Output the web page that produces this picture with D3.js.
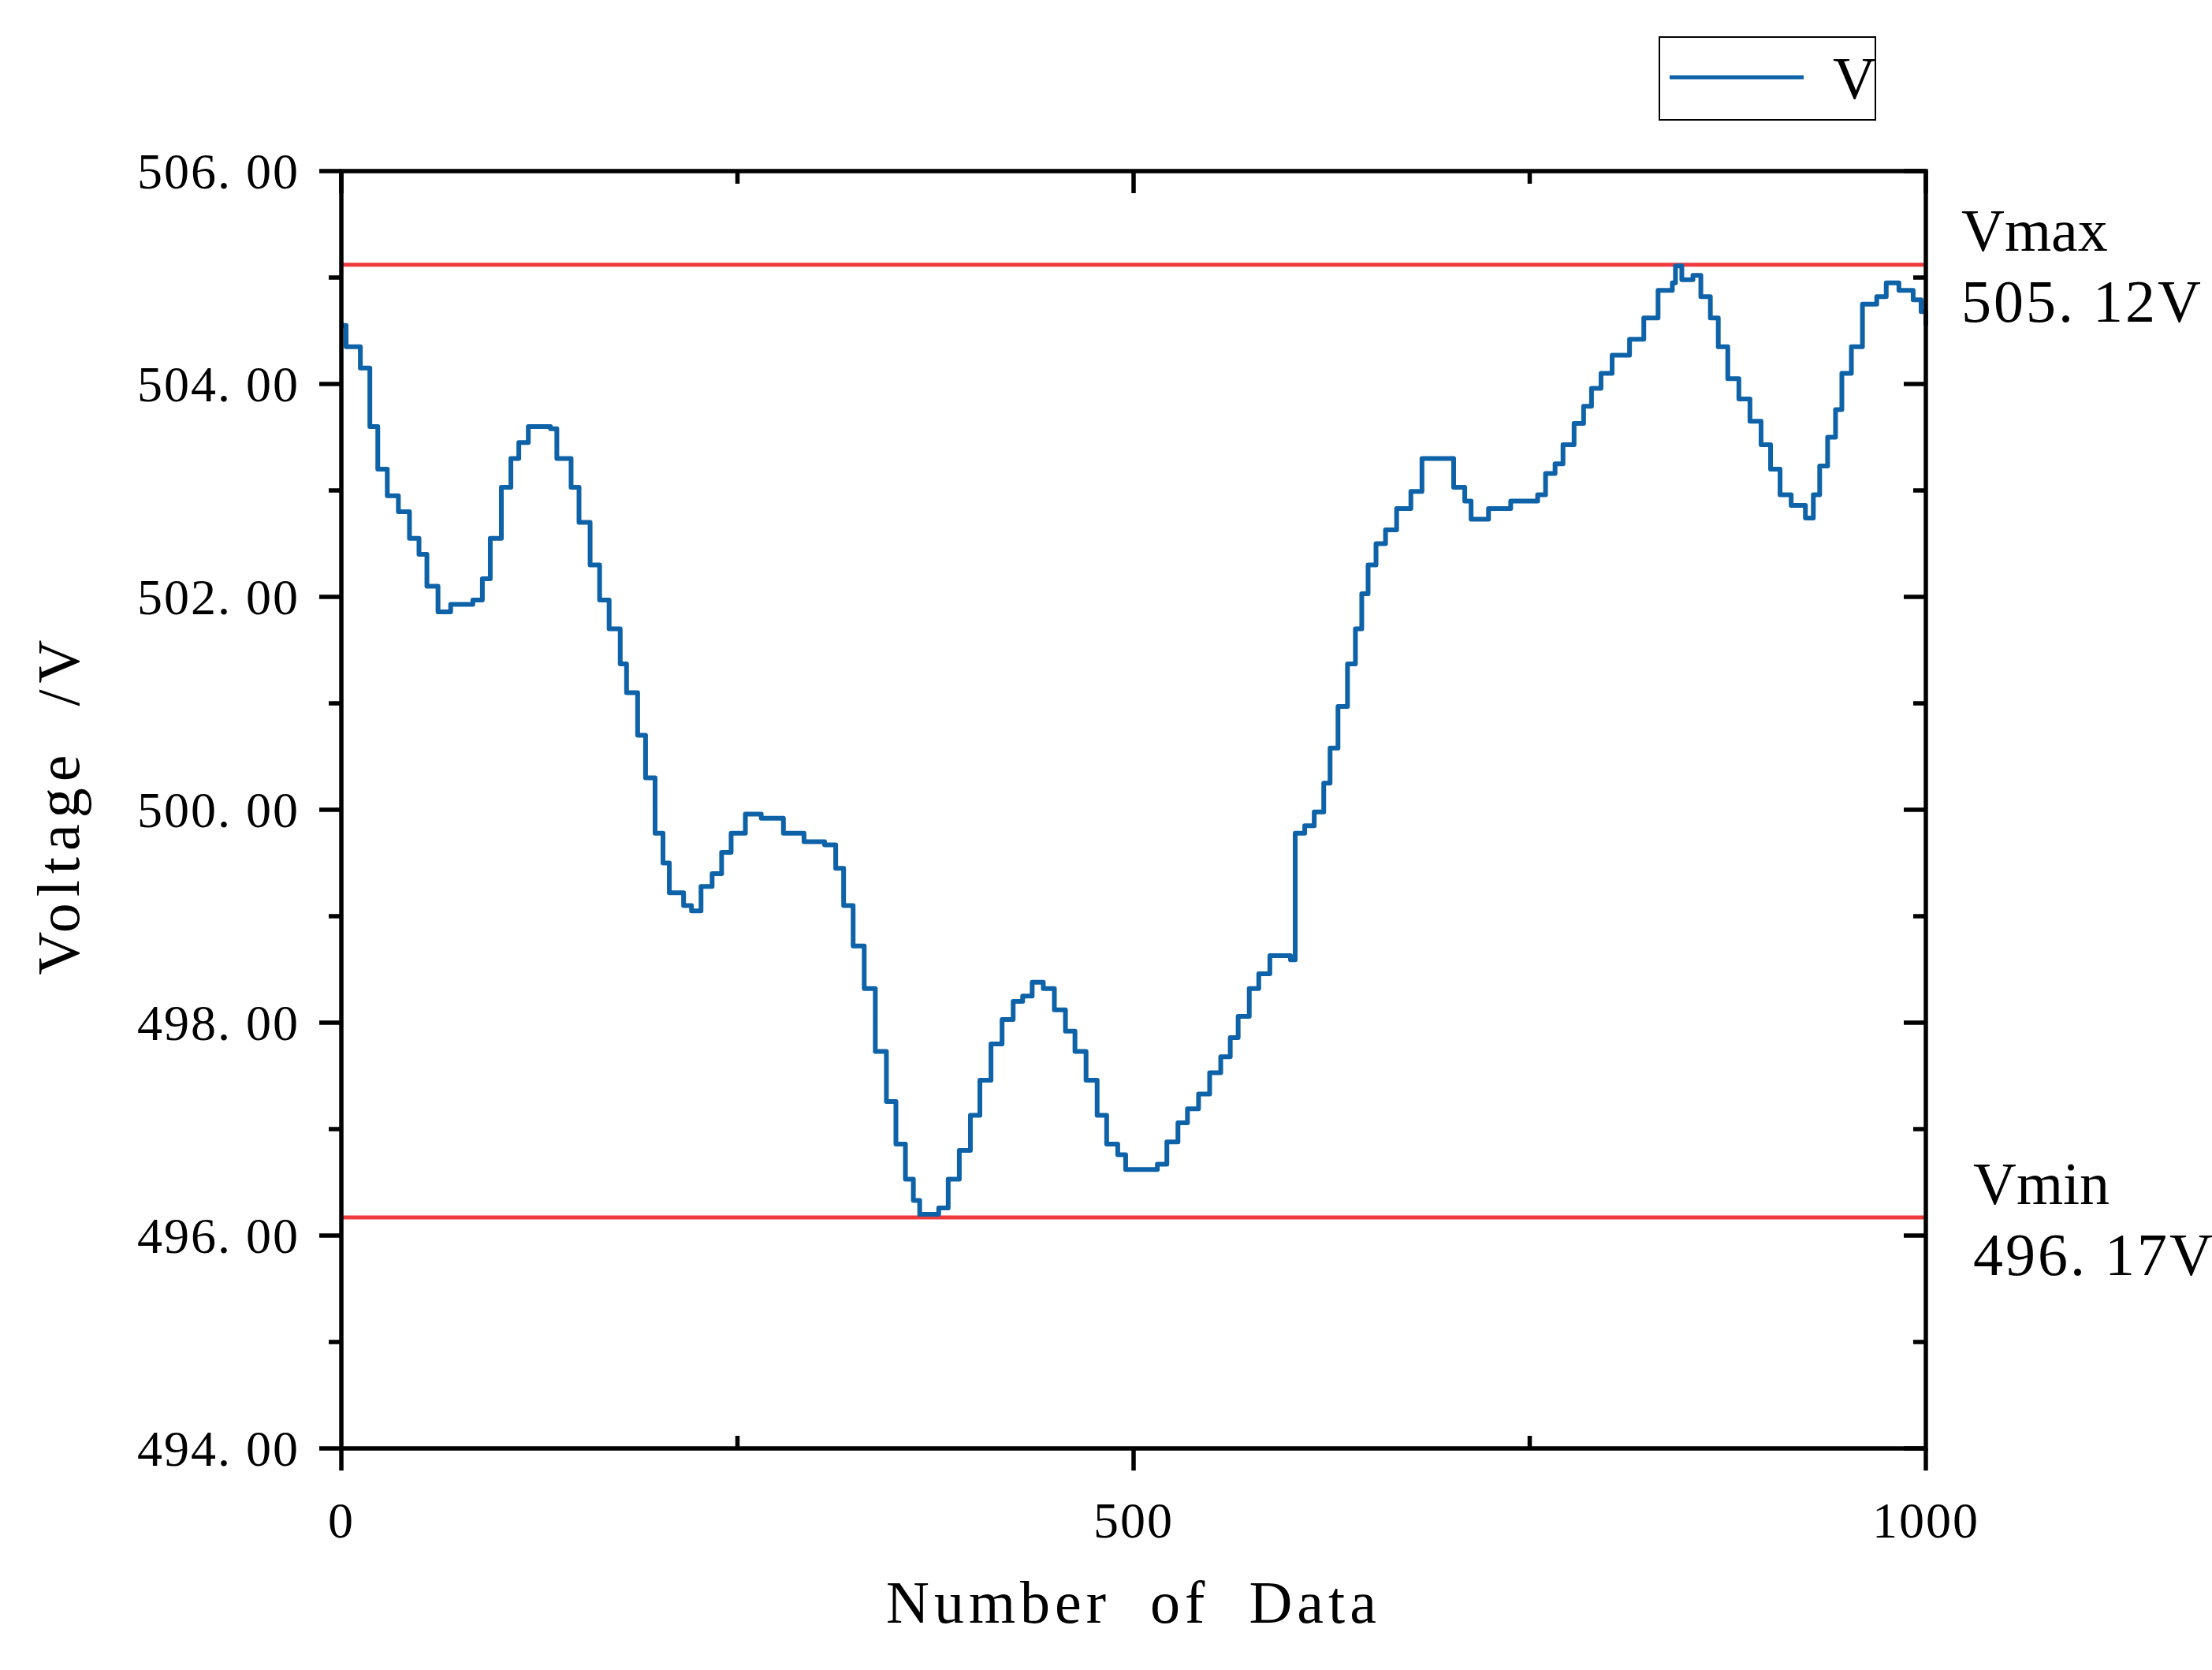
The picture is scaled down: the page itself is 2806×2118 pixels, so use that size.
<!DOCTYPE html>
<html><head><meta charset="utf-8">
<script src="https://cdn.jsdelivr.net/npm/d3@7"></script>
<style>body{margin:0;background:#fff}</style>
</head><body>
<svg id="c" width="2806" height="2118"></svg>
<script>
// step points: index, voltage
var idx = [0,3,12,18,23,29,36,43,49,54,61,69,83,89,94,101,107,112,118,132,136,145,150,157,163,169,176,180,187,192,198,203,207,216,221,227,234,240,246,255,265,279,292,305,312,317,323,330,337,344,350,356,361,365,377,383,390,397,403,410,417,424,430,436,443,450,457,463,470,477,483,490,495,515,521,528,534,541,548,555,561,566,573,579,586,599,602,608,614,620,624,629,635,640,644,648,653,659,666,675,682,697,702,709,713,724,738,755,760,766,771,778,784,789,795,802,813,822,831,840,842,846,853,858,864,869,875,882,889,896,902,908,915,924,929,933,938,943,947,953,960,969,975,983,992,997,1000];
var volts = [504.55,504.35,504.15,503.6,503.2,502.95,502.8,502.55,502.4,502.1,501.86,501.93,501.97,502.17,502.55,503.03,503.3,503.45,503.6,503.58,503.3,503.03,502.7,502.3,501.97,501.7,501.37,501.1,500.7,500.3,499.78,499.5,499.22,499.1,499.05,499.28,499.4,499.6,499.78,499.96,499.92,499.78,499.7,499.67,499.45,499.1,498.72,498.32,497.73,497.26,496.86,496.53,496.33,496.2,496.26,496.53,496.8,497.13,497.46,497.8,498.03,498.2,498.25,498.38,498.32,498.12,497.92,497.73,497.46,497.13,496.86,496.76,496.62,496.67,496.88,497.06,497.19,497.33,497.53,497.68,497.86,498.06,498.32,498.46,498.63,498.59,499.78,499.85,499.98,500.25,500.58,500.97,501.37,501.7,502.03,502.3,502.5,502.63,502.83,502.99,503.3,503.3,503.03,502.9,502.73,502.83,502.9,502.96,503.16,503.25,503.43,503.63,503.79,503.96,504.1,504.27,504.42,504.62,504.88,504.95,505.11,504.98,505.02,504.82,504.62,504.35,504.05,503.86,503.65,503.43,503.2,502.96,502.86,502.74,502.96,503.23,503.5,503.76,504.1,504.35,504.75,504.82,504.95,504.88,504.79,504.68,504.55];
var yTicks = [494,496,498,500,502,504,506];
var xTicks = [0,500,1000];
var limits = [{v:505.12, name:"Vmax", label:"505.12V"}, {v:496.17, name:"Vmin", label:"496.17V"}];

var svg = d3.select("#c");
var L = 433, R = 2443, T = 217, B = 1837;
var font = "'Liberation Serif','DejaVu Serif',serif";
var x = d3.scaleLinear().domain([0,1000]).range([L,R]);
var y = d3.scaleLinear().domain([494,506]).range([B,T]);
var blue = "#0e62a8", red = "#f0393c";

// limit lines
svg.selectAll(".lim").data(limits).enter().append("line")
  .attr("x1", L).attr("x2", R)
  .attr("y1", d => y(d.v)).attr("y2", d => y(d.v))
  .attr("stroke", red).attr("stroke-width", 5);

// data line
var pts = idx.map((d,i) => [d, volts[i]]);
svg.append("path").datum(pts)
  .attr("d", d3.line().x(d => x(d[0])).y(d => y(d[1])).curve(d3.curveStepAfter))
  .attr("fill", "none").attr("stroke", blue).attr("stroke-width", 6).attr("stroke-linejoin", "round");

// frame and axes
var ax = svg.append("g").attr("stroke", "#000").attr("stroke-width", 5.5);
ax.append("rect").attr("x", L).attr("y", T).attr("width", R-L).attr("height", B-T).attr("fill", "none");
d3.range(494, 506.01, 1).forEach(function(v){
  var major = v % 2 === 0, len = major ? 28 : 16;
  ax.append("line").attr("x1", L-len).attr("x2", L).attr("y1", y(v)).attr("y2", y(v));
  ax.append("line").attr("x1", R-len).attr("x2", R).attr("y1", y(v)).attr("y2", y(v));
});
[0,250,500,750,1000].forEach(function(v){
  var major = v % 500 === 0, len = major ? 28 : 16;
  ax.append("line").attr("x1", x(v)).attr("x2", x(v)).attr("y1", B).attr("y2", B + (major ? len : -len));
  ax.append("line").attr("x1", x(v)).attr("x2", x(v)).attr("y1", T).attr("y2", T + len);
});

svg.selectAll(".yl").data(yTicks).enter().append("text")
  .attr("x", 380).attr("y", d => y(d)).attr("dy", "0.35em").attr("text-anchor", "end")
  .attr("font-family", font).attr("font-size", 64).attr("letter-spacing", 2)
  .attr("xml:space", "preserve").text(d => d.toFixed(2).replace(".", ". "));
svg.selectAll(".xl").data(xTicks).enter().append("text")
  .attr("x", d => x(d)).attr("y", 1950).attr("text-anchor", "middle")
  .attr("font-family", font).attr("font-size", 64).attr("letter-spacing", 2).text(d => d);

svg.append("text").attr("x", x(500)).attr("y", 2058).attr("text-anchor", "middle")
  .attr("font-family", font).attr("font-size", 76).attr("letter-spacing", 6)
  .attr("xml:space", "preserve").text("Number  of  Data");
svg.append("text").attr("transform", "translate(100,1020) rotate(-90)").attr("text-anchor", "middle")
  .attr("font-family", font).attr("font-size", 76).attr("letter-spacing", 8)
  .attr("xml:space", "preserve").text("Voltage  /V");

// limit labels
var lx = [2488, 2503], ly = [318, 1527];
limits.forEach(function(d, i){
  svg.append("text").attr("x", lx[i]).attr("y", ly[i]).attr("font-family", font).attr("font-size", 76).text(d.name);
  svg.append("text").attr("x", lx[i]).attr("y", ly[i] + 90).attr("font-family", font).attr("font-size", 76)
    .attr("letter-spacing", 3).attr("xml:space", "preserve").text(d.label.replace(".", ". "));
});

// legend
svg.append("rect").attr("x", 2105).attr("y", 47).attr("width", 274).attr("height", 105)
  .attr("fill", "#fff").attr("stroke", "#000").attr("stroke-width", 2);
svg.append("line").attr("x1", 2118).attr("x2", 2288).attr("y1", 98).attr("y2", 98)
  .attr("stroke", blue).attr("stroke-width", 5);
svg.append("text").attr("x", 2325).attr("y", 125).attr("font-family", font).attr("font-size", 76).text("V");
</script>
</body></html>
